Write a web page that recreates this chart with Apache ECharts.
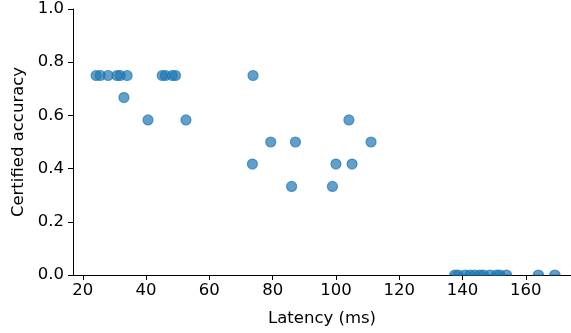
<!DOCTYPE html>
<html>
<head>
<meta charset="utf-8">
<script src="https://cdn.jsdelivr.net/npm/echarts@6/dist/echarts.min.js"></script>
<style>
  html, body { margin: 0; padding: 0; background: #fff; }
  #chart { width: 571px; height: 333px; }
</style>
</head>
<body>
<div id="chart"></div>
<script>
// latency (ms) of each run
const latency = [
  24.2, 25.5, 28.0, 30.8, 31.8, 34.0, 45.1, 46.1, 48.3, 49.3, 73.8,
  33.0, 40.6, 52.6,
  79.4, 87.2, 111.1, 104.1,
  73.6, 100.0, 105.1,
  86.0, 98.9,
  137.6, 138.6, 140.8, 142.4, 143.9, 145.5, 146.6, 148.7, 150.8, 151.8, 153.9, 164.0, 169.2
];
// certified accuracy for each run
const accuracy = [
  0.75, 0.75, 0.75, 0.75, 0.75, 0.75, 0.75, 0.75, 0.75, 0.75, 0.75,
  0.667, 0.583, 0.583,
  0.5, 0.5, 0.5, 0.583,
  0.417, 0.417, 0.417,
  0.333, 0.333,
  0, 0, 0, 0, 0, 0, 0, 0, 0, 0, 0, 0, 0
];
const xTicks = [20, 40, 60, 80, 100, 120, 140, 160];

const SIZE = 10;
// markers sitting on y = 0 get cut by the plot edge, so only the top half shows
const halfCircle = "path://M0,10 A10,10 0 0 1 20,10 Z";
const points = latency.map((x, i) => {
  if (accuracy[i] <= 0) {
    return {
      value: [x, accuracy[i]],
      symbol: halfCircle,
      symbolSize: [SIZE, SIZE / 2],
      symbolOffset: [0, -SIZE / 4]
    };
  }
  return [x, accuracy[i]];
});

const myChart = echarts.init(document.getElementById("chart"));
const font = "DejaVu Sans";
const fs = 16.5;
const option = {
  animation: false,
  grid: { left: 73, right: 0, top: 9, bottom: 58 },
  xAxis: {
    type: "value",
    min: 16.9,
    max: 174.3,
    name: "Latency (ms)",
    nameLocation: "middle",
    nameGap: 35,
    nameTextStyle: { fontFamily: font, fontSize: fs, color: "#000" },
    axisLine: { lineStyle: { color: "#000", width: 1 } },
    axisTick: { show: true, length: 5, customValues: xTicks, lineStyle: { color: "#000" } },
    axisLabel: { customValues: xTicks, margin: 7, fontFamily: font, fontSize: fs, color: "#000" },
    splitLine: { show: false }
  },
  yAxis: {
    type: "value",
    min: 0,
    max: 1,
    interval: 0.2,
    name: "Certified accuracy",
    nameLocation: "middle",
    nameGap: 46,
    nameTextStyle: { fontFamily: font, fontSize: fs, color: "#000" },
    axisLine: { show: true, lineStyle: { color: "#000", width: 1 } },
    axisTick: { show: true, length: 5, lineStyle: { color: "#000" } },
    axisLabel: {
      margin: 9,
      fontFamily: font,
      fontSize: fs,
      color: "#000",
      formatter: v => v.toFixed(1)
    },
    splitLine: { show: false }
  },
  series: [
    {
      type: "scatter",
      data: points,
      symbolSize: SIZE,
      itemStyle: { color: "#1f77b4", borderColor: "#1f77b4", borderWidth: 1.2, opacity: 0.7 }
    }
  ]
};
myChart.setOption(option);
</script>
</body>
</html>
